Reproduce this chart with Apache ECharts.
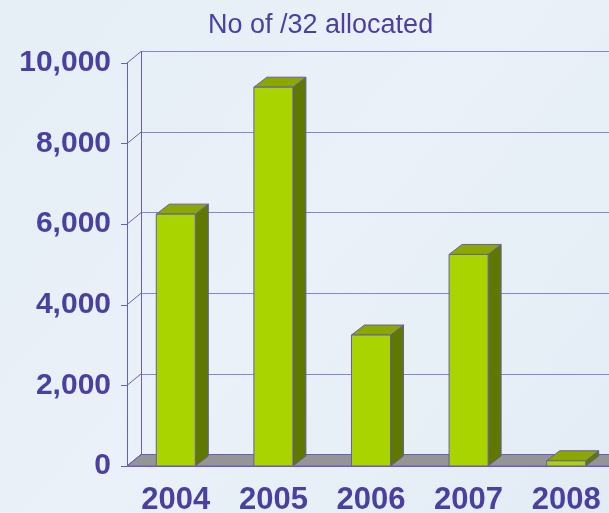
<!DOCTYPE html>
<html>
<head>
<meta charset="utf-8">
<script src="https://cdn.jsdelivr.net/npm/echarts@6/dist/echarts.min.js"></script>
<style>
  html, body { margin: 0; padding: 0; }
  #container { width: 609px; height: 513px; }
</style>
</head>
<body>
<div id="container"></div>
<script>
// data
const years = ["2004", "2005", "2006", "2007", "2008"];
const allocated = [6250, 9400, 3250, 5250, 130];
const yTicks = [0, 2000, 4000, 6000, 8000, 10000];

// 3d depth of the walls / bars
const wallDx = 14, wallDy = 11.5;
const barDx = 13, barDy = 10;

const ink = "#4B3FA0";
const lineCol = "#6A5CC0";
const gridCol = "#8C82D2";

function fmt(v) {
  return String(v).replace(/\B(?=(\d{3})+(?!\d))/g, ",");
}

// function: grey floor under the bars
function renderFloor(params, api) {
  const cs = params.coordSys;
  const y0 = api.coord([0, 0])[1];
  return {
    type: "polygon",
    shape: {
      points: [
        [cs.x, y0],
        [cs.x + cs.width + 40, y0],
        [cs.x + cs.width + 40 + wallDx, y0 - wallDy],
        [cs.x + wallDx, y0 - wallDy]
      ]
    },
    style: { fill: "#959595", stroke: lineCol, lineWidth: 1 }
  };
}

// function: slanted lines of the left wall
function renderSlant(params, api) {
  const cs = params.coordSys;
  const y = api.coord([0, api.value(1)])[1];
  return {
    type: "line",
    shape: { x1: cs.x, y1: y, x2: cs.x + wallDx, y2: y - wallDy },
    style: { stroke: lineCol, lineWidth: 1 }
  };
}

// function: one 3d column
function renderBar(params, api) {
  const top = api.coord([api.value(0), api.value(1)]);
  const base = api.coord([api.value(0), 0]);
  const w = api.size([1, 0])[0] * 0.4;
  const x0 = top[0] - w / 2,
    x1 = top[0] + w / 2,
    yt = top[1],
    yb = base[1];
  const edge = { stroke: "#6A5AAA", lineWidth: 1, lineJoin: "round" };
  return {
    type: "group",
    children: [
      {
        type: "polygon",
        shape: { points: [[x1, yt], [x1 + barDx, yt - barDy], [x1 + barDx, yb - barDy], [x1, yb]] },
        style: Object.assign({ fill: "#5F7800" }, edge)
      },
      {
        type: "polygon",
        shape: { points: [[x0, yt], [x1, yt], [x1 + barDx, yt - barDy], [x0 + barDx, yt - barDy]] },
        style: Object.assign({ fill: "#8AA800" }, edge)
      },
      {
        type: "rect",
        shape: { x: x0, y: yt, width: w, height: yb - yt },
        style: Object.assign({ fill: "#AAD400" }, edge)
      }
    ]
  };
}

const myChart = echarts.init(document.getElementById("container"));
const option = {
  backgroundColor: {
    type: "linear", x: 0, y: 0, x2: 1, y2: 1,
    colorStops: [
      { offset: 0, color: "#E6EEF6" },
      { offset: 0.5, color: "#EAF1F8" },
      { offset: 1, color: "#E3ECF5" }
    ]
  },
  animation: false,
  title: {
    text: "No of /32 allocated",
    left: 203,
    top: 7,
    textStyle: {
      fontFamily: "Liberation Sans, Arial, sans-serif",
      fontSize: 27,
      fontWeight: "normal",
      color: ink
    }
  },
  grid: [
    { left: 127, top: 63, width: 488, height: 403, outerBoundsMode: "none", containLabel: false },
    { left: 127 + wallDx, top: 63 - wallDy, width: 488, height: 403, outerBoundsMode: "none", containLabel: false }
  ],
  xAxis: [
    {
      type: "category",
      gridIndex: 0,
      data: years,
      axisLine: { lineStyle: { color: lineCol, width: 1 } },
      axisTick: { length: 7, lineStyle: { color: lineCol } },
      axisLabel: {
        margin: 19,
        color: ink,
        fontFamily: "Liberation Sans, Arial, sans-serif",
        fontSize: 31,
        fontWeight: "bold"
      }
    },
    {
      type: "category",
      gridIndex: 1,
      data: years,
      show: false
    }
  ],
  yAxis: [
    {
      type: "value",
      gridIndex: 0,
      min: 0,
      max: 10000,
      interval: 2000,
      axisLine: { show: true, lineStyle: { color: lineCol, width: 1 } },
      axisTick: { show: true, length: 6, lineStyle: { color: lineCol } },
      splitLine: { show: false },
      axisLabel: {
        margin: 16,
        color: ink,
        fontFamily: "Liberation Sans, Arial, sans-serif",
        fontSize: 30,
        fontWeight: "bold",
        formatter: fmt
      }
    },
    {
      type: "value",
      gridIndex: 1,
      min: 0,
      max: 10000,
      interval: 2000,
      axisLine: { show: true, lineStyle: { color: lineCol, width: 1 } },
      axisTick: { show: false },
      axisLabel: { show: false },
      splitLine: { show: true, lineStyle: { color: gridCol, width: 1 } }
    }
  ],
  series: [
    {
      type: "custom",
      xAxisIndex: 0,
      yAxisIndex: 0,
      renderItem: renderFloor,
      clip: false,
      z: 1,
      data: [[0, 0]]
    },
    {
      type: "custom",
      xAxisIndex: 0,
      yAxisIndex: 0,
      renderItem: renderSlant,
      clip: false,
      z: 2,
      data: yTicks.map((v) => [0, v])
    },
    {
      name: "No of /32 allocated",
      type: "custom",
      xAxisIndex: 0,
      yAxisIndex: 0,
      renderItem: renderBar,
      clip: false,
      z: 3,
      data: allocated.map((v, i) => [i, v])
    }
  ]
};
myChart.setOption(option);
</script>
</body>
</html>
